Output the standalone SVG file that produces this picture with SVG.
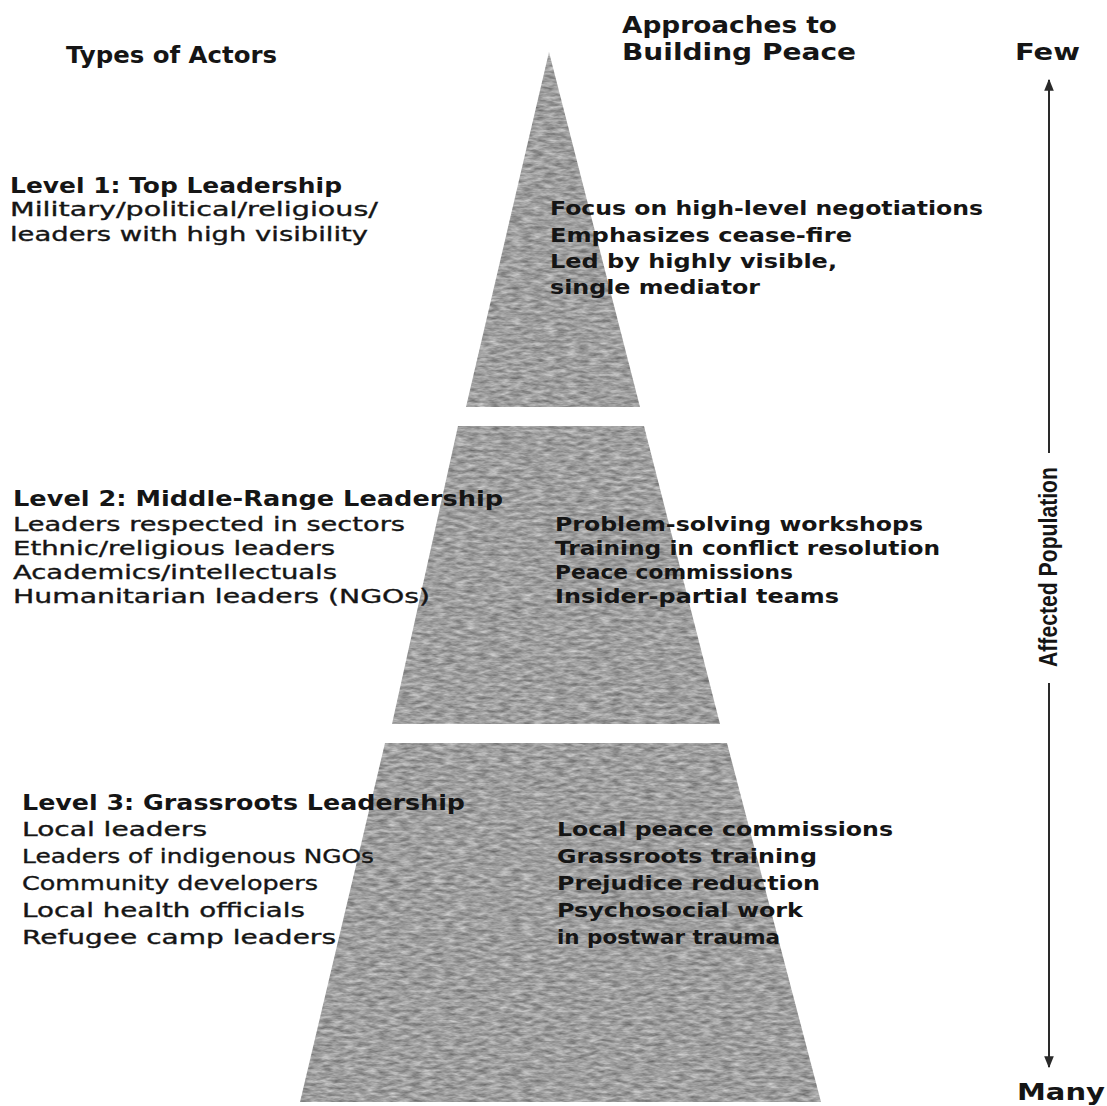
<svg xmlns="http://www.w3.org/2000/svg" width="1107" height="1106" viewBox="0 0 1107 1106">
<style>
text{font-family:"DejaVu Sans","Liberation Sans",sans-serif;fill:#151515}
.h{font-weight:bold;font-size:23px}
.lv{font-weight:bold;font-size:21px}
.b{font-size:19px;stroke:#151515;stroke-width:0.35}
.r{font-weight:bold;font-size:19px}
.ax{fill:none;stroke:#2a2a2a;stroke-width:2}
.pyr{fill:#9a9a9a}
</style>
<defs>
<filter id="grain" x="0" y="0" width="100%" height="100%" color-interpolation-filters="sRGB">
<feTurbulence type="fractalNoise" baseFrequency="0.09 0.3" numOctaves="3" seed="7" result="n"/>
<feColorMatrix in="n" type="matrix" values="0.5 0 0 0 0.37  0.5 0 0 0 0.37  0.5 0 0 0 0.37  0 0 0 0 1" result="g"/>
<feComposite in="g" in2="SourceGraphic" operator="in"/>
</filter>
<marker id="ah" viewBox="0 0 10 10" refX="9" refY="5" markerWidth="6" markerHeight="6" orient="auto-start-reverse" markerUnits="strokeWidth">
<path d="M0,1 L10,5 L0,9 Z" fill="#2a2a2a"/>
</marker>
</defs>
<rect width="1107" height="1106" fill="#fff"/>

<g id="pyramid" filter="url(#grain)">
<polygon id="tier-top" class="pyr" points="549,52 640,407 466,407"/>
<polygon id="tier-middle" class="pyr" points="458,426 644,426 720,724 392,724"/>
<polygon id="tier-bottom" class="pyr" points="385,743 727,743 821,1102 300,1102"/>
</g>

<g id="headers">
<text class="h" x="66" y="63" textLength="211" lengthAdjust="spacingAndGlyphs">Types of Actors</text>
<text class="h" x="622" y="33" textLength="215" lengthAdjust="spacingAndGlyphs">Approaches to</text>
<text class="h" x="622" y="60" textLength="234" lengthAdjust="spacingAndGlyphs">Building Peace</text>
</g>

<g id="connectors">
<line class="ax" x1="1049" y1="453" x2="1049" y2="80" marker-end="url(#ah)"/>
<line class="ax" x1="1049" y1="683" x2="1049" y2="1067" marker-end="url(#ah)"/>
</g>

<g id="axis-labels">
<text class="h" x="1015" y="60" textLength="65" lengthAdjust="spacingAndGlyphs">Few</text>
<text class="h" x="1017" y="1100" textLength="88" lengthAdjust="spacingAndGlyphs">Many</text>
<text transform="translate(1057,567) rotate(-90)" text-anchor="middle" style="font-family:'Liberation Sans Narrow','Liberation Sans',sans-serif;font-weight:bold;font-size:26px" textLength="200" lengthAdjust="spacingAndGlyphs">Affected Population</text>
</g>

<g id="level-1">
<text class="lv" x="10" y="193" textLength="332" lengthAdjust="spacingAndGlyphs">Level 1: Top Leadership</text>
<text class="b" x="10" y="216" textLength="368" lengthAdjust="spacingAndGlyphs">Military/political/religious/</text>
<text class="b" x="10" y="241" textLength="358" lengthAdjust="spacingAndGlyphs">leaders with high visibility</text>
<text class="r" x="550" y="215" textLength="433" lengthAdjust="spacingAndGlyphs">Focus on high-level negotiations</text>
<text class="r" x="550" y="242" textLength="302" lengthAdjust="spacingAndGlyphs">Emphasizes cease-fire</text>
<text class="r" x="550" y="268" textLength="287" lengthAdjust="spacingAndGlyphs">Led by highly visible,</text>
<text class="r" x="550" y="294" textLength="210" lengthAdjust="spacingAndGlyphs">single mediator</text>
</g>

<g id="level-2">
<text class="lv" x="13" y="506" textLength="490" lengthAdjust="spacingAndGlyphs">Level 2: Middle-Range Leadership</text>
<text class="b" x="13" y="531" textLength="392" lengthAdjust="spacingAndGlyphs">Leaders respected in sectors</text>
<text class="b" x="13" y="555" textLength="322" lengthAdjust="spacingAndGlyphs">Ethnic/religious leaders</text>
<text class="b" x="13" y="579" textLength="324" lengthAdjust="spacingAndGlyphs">Academics/intellectuals</text>
<text class="b" x="13" y="603" textLength="417" lengthAdjust="spacingAndGlyphs">Humanitarian leaders (NGOs)</text>
<text class="r" x="555" y="531" textLength="368" lengthAdjust="spacingAndGlyphs">Problem-solving workshops</text>
<text class="r" x="555" y="555" textLength="385" lengthAdjust="spacingAndGlyphs">Training in conflict resolution</text>
<text class="r" x="555" y="579" textLength="238" lengthAdjust="spacingAndGlyphs">Peace commissions</text>
<text class="r" x="555" y="603" textLength="284" lengthAdjust="spacingAndGlyphs">Insider-partial teams</text>
</g>

<g id="level-3">
<text class="lv" x="22" y="810" textLength="443" lengthAdjust="spacingAndGlyphs">Level 3: Grassroots Leadership</text>
<text class="b" x="22" y="836" textLength="185" lengthAdjust="spacingAndGlyphs">Local leaders</text>
<text class="b" x="22" y="863" textLength="352" lengthAdjust="spacingAndGlyphs">Leaders of indigenous NGOs</text>
<text class="b" x="22" y="890" textLength="296" lengthAdjust="spacingAndGlyphs">Community developers</text>
<text class="b" x="22" y="917" textLength="283" lengthAdjust="spacingAndGlyphs">Local health officials</text>
<text class="b" x="22" y="944" textLength="314" lengthAdjust="spacingAndGlyphs">Refugee camp leaders</text>
<text class="r" x="557" y="836" textLength="336" lengthAdjust="spacingAndGlyphs">Local peace commissions</text>
<text class="r" x="557" y="863" textLength="260" lengthAdjust="spacingAndGlyphs">Grassroots training</text>
<text class="r" x="557" y="890" textLength="263" lengthAdjust="spacingAndGlyphs">Prejudice reduction</text>
<text class="r" x="557" y="917" textLength="246" lengthAdjust="spacingAndGlyphs">Psychosocial work</text>
<text class="r" x="557" y="944" textLength="223" lengthAdjust="spacingAndGlyphs">in postwar trauma</text>
</g>
</svg>
